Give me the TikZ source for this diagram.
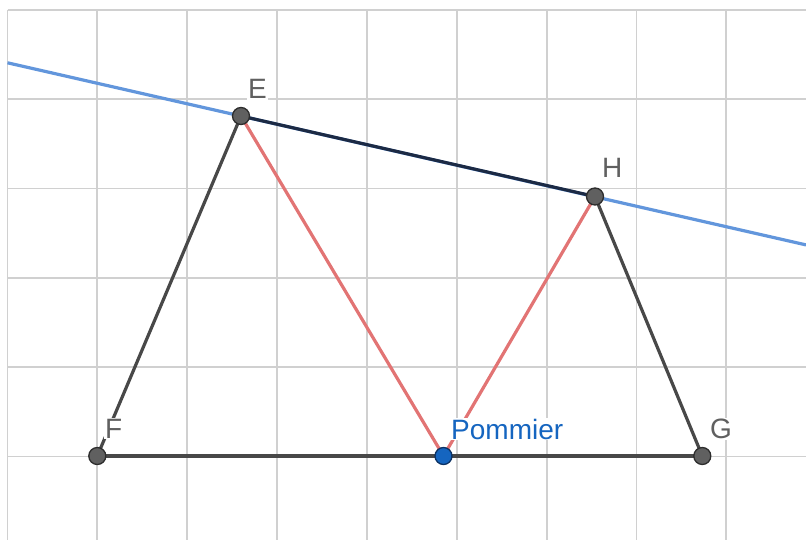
\documentclass[tikz,border=0pt]{standalone}
\usepackage{fontspec}
\setmainfont{Liberation Sans}
\definecolor{gridc}{RGB}{208,208,208}
\definecolor{blueline}{RGB}{98,150,220}
\definecolor{navy}{RGB}{28,42,68}
\definecolor{segc}{RGB}{72,72,72}
\definecolor{redc}{RGB}{226,116,116}
\definecolor{ptfill}{RGB}{96,96,96}
\definecolor{ptdraw}{RGB}{45,45,45}
\definecolor{pomfill}{RGB}{21,101,192}
\definecolor{pomdraw}{RGB}{12,50,100}
\definecolor{labc}{RGB}{96,96,96}
\definecolor{pomlab}{RGB}{21,101,192}
\tikzset{
  gridline/.style={draw=gridc, line width=1.8pt},
  segline/.style={draw=segc, line width=3.2pt},
  redline/.style={draw=redc, line width=3.2pt},
  navyline/.style={draw=navy, line width=3.2pt},
  blue line/.style={draw=blueline, line width=3.2pt},
  pt/.style={circle, fill=ptfill, draw=ptdraw, line width=1.3pt, minimum size=17pt, inner sep=0pt},
  pompt/.style={circle, fill=pomfill, draw=pomdraw, line width=1.3pt, minimum size=17pt, inner sep=0pt},
  lab/.style={anchor=base west, inner sep=1pt, fill=white, text=labc, font=\fontsize{28}{30}\selectfont},
  pomlabel/.style={lab, text=pomlab}
}
\begin{document}
\begin{tikzpicture}[x=1pt, y=-1pt]
\useasboundingbox (0,0) rectangle (806,540);
% grid
\foreach \k in {0,...,8} {
  \draw[gridline] ({7.5+89.85*\k},10) -- ({7.5+89.85*\k},540);
}
\foreach \k in {0,...,5} {
  \draw[gridline] (7.5,{10+89.3*\k}) -- (806,{10+89.3*\k});
}
% points (coordinates)
\coordinate (Ec) at (241,116);
\coordinate (Hc) at (595,196.5);
\coordinate (Fc) at (97.3,456);
\coordinate (Gc) at (702.3,456);
\coordinate (Pc) at (443.5,456);
\coordinate (L1) at (7.5,62.8);
\coordinate (L2) at (806,244.9);
% lines
\draw[blue line] (L1) -- (L2);
\draw[segline] (Fc) -- (Ec);
\draw[segline] (Hc) -- (Gc);
\draw[segline] (Fc) -- (Gc);
\draw[redline] (Ec) -- (Pc) -- (Hc);
\draw[navyline] (Ec) -- (Hc);
% labels
\node[lab] (lE) at (247,99) {E};
\node[lab] (lH) at (601,178) {H};
\node[lab] (lF) at (104,438) {F};
\node[lab] (lG) at (709,438.5) {G};
\node[pomlabel] (lP) at (450,439) {Pommier};
% dots
\node[pt] (E) at (Ec) {};
\node[pt] (H) at (Hc) {};
\node[pt] (F) at (Fc) {};
\node[pt] (G) at (Gc) {};
\node[pompt] (P) at (Pc) {};
\end{tikzpicture}
\end{document}
